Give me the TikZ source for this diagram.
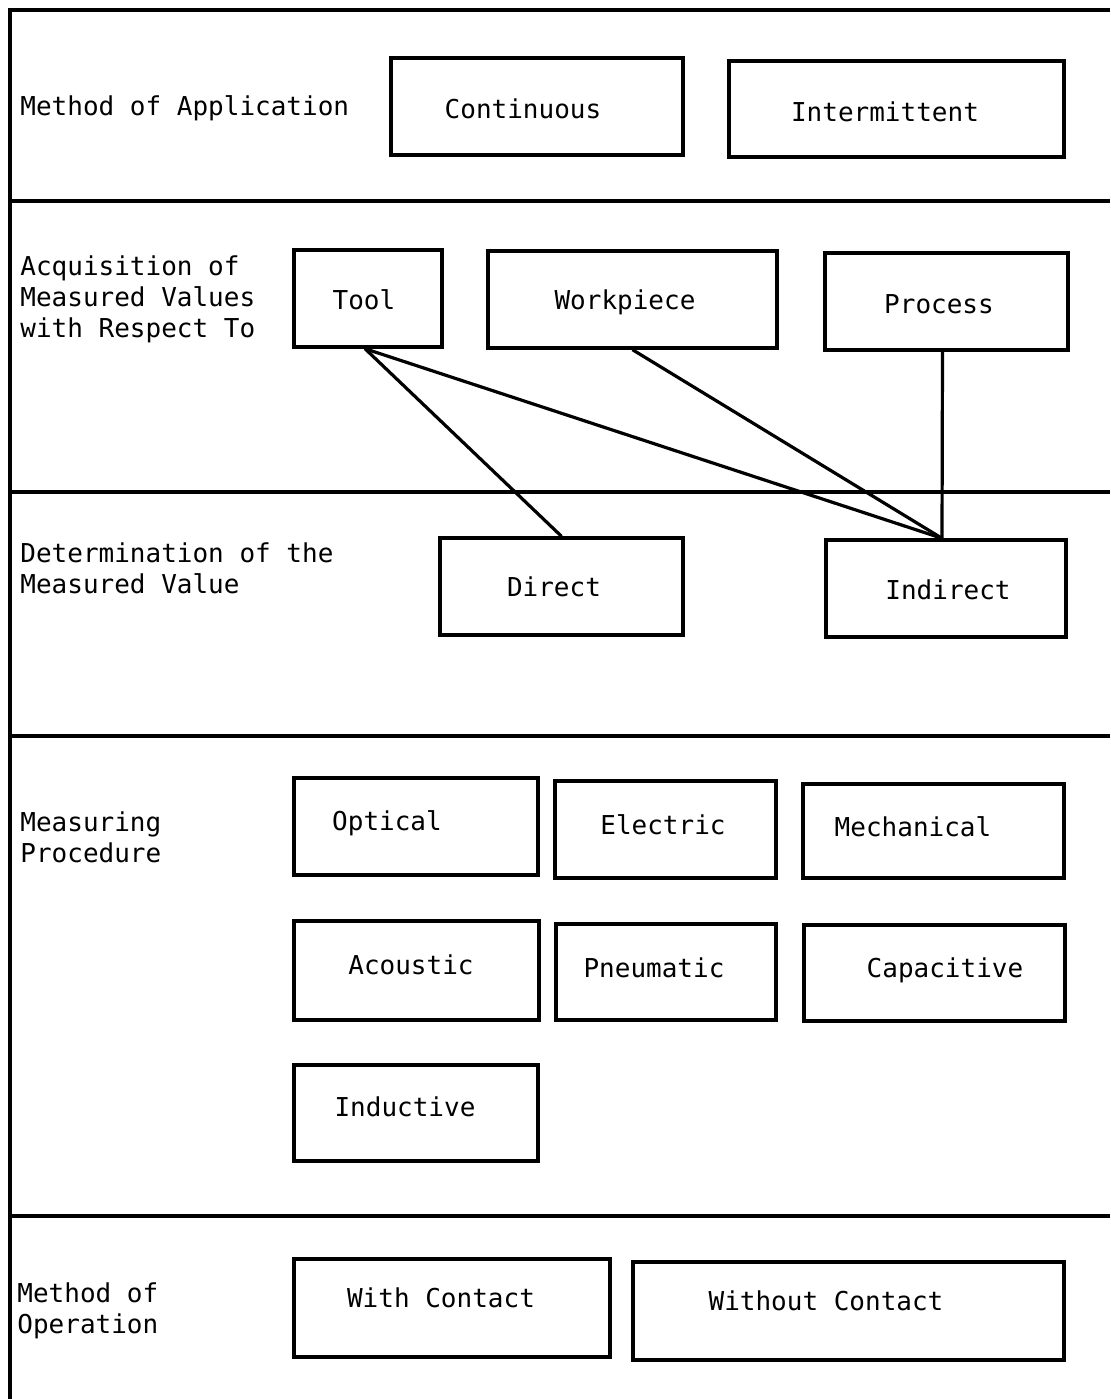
\documentclass[tikz,border=0pt]{standalone}
\usepackage{fontspec}
\setmonofont{DejaVu Sans Mono}
\begin{document}
\begin{tikzpicture}[x=0.5pt,y=-0.5pt,
  box/.style={draw,line width=1.7pt,inner sep=0pt,rectangle},
  txt/.style={inner sep=0pt,font=\ttfamily\fontsize{13}{15.5}\selectfont},
  lab/.style={txt,anchor=west,align=left},
  rule/.style={line width=1.6pt},
  conn/.style={line width=1.6pt}]
\useasboundingbox (0,0) rectangle (1110,1399);
% frame and section rules
\coordinate (tl) at (10,10);
\coordinate (tr) at (1110,10);
\coordinate (bl) at (10,1399);
\draw[rule] (tr) -- (tl) -- (bl);
\coordinate (r1l) at (10,201);  \coordinate (r1r) at (1110,201);
\coordinate (r2l) at (10,492);  \coordinate (r2r) at (1110,492);
\coordinate (r3l) at (10,736);  \coordinate (r3r) at (1110,736);
\coordinate (r4l) at (10,1216); \coordinate (r4r) at (1110,1216);
\draw[rule] (r1l) -- (r1r);
\draw[rule] (r2l) -- (r2r);
\draw[rule] (r3l) -- (r3r);
\draw[rule] (r4l) -- (r4r);
% row labels
\node[lab] (l1) at (20,108) {Method of Application};
\node[lab] (l2) at (20,299) {Acquisition of\\Measured Values\\with Respect To};
\node[lab] (l3) at (20,568) {Determination of the\\Measured Value};
\node[lab] (l4) at (20,837) {Measuring\\Procedure};
\node[lab] (l5) at (17,1311) {Method of\\Operation};
% boxes
\node[box,minimum width=292pt*0.5,minimum height=97pt*0.5] (cont) at (537,106.5) {};
\node[txt] (contt) at (523,109) {Continuous};
\node[box,minimum width=335pt*0.5,minimum height=96pt*0.5] (inter) at (896.5,109) {};
\node[txt] (intert) at (885,112) {Intermittent};
\node[box,minimum width=148pt*0.5,minimum height=97pt*0.5] (tool) at (368,298.5) {};
\node[txt] (toolt) at (364,300) {Tool};
\node[box,minimum width=289pt*0.5,minimum height=97pt*0.5] (work) at (632.5,299.5) {};
\node[txt] (workt) at (625,302) {Workpiece};
\node[box,minimum width=243pt*0.5,minimum height=97pt*0.5] (proc) at (946.5,301.5) {};
\node[txt] (proct) at (939,304) {Process};
\node[box,minimum width=243pt*0.5,minimum height=97pt*0.5] (direct) at (561.5,586.5) {};
\node[txt] (directt) at (554,587) {Direct};
\node[box,minimum width=240pt*0.5,minimum height=97pt*0.5] (indirect) at (946,588.5) {};
\node[txt] (indirectt) at (948,590) {Indirect};
\node[box,minimum width=244pt*0.5,minimum height=97pt*0.5] (opt) at (416,826.5) {};
\node[txt] (optt) at (387,823) {Optical};
\node[box,minimum width=221pt*0.5,minimum height=97pt*0.5] (elec) at (665.5,829.5) {};
\node[txt] (elect) at (663,825) {Electric};
\node[box,minimum width=261pt*0.5,minimum height=94pt*0.5] (mech) at (933.5,831) {};
\node[txt] (mecht) at (913,827) {Mechanical};
\node[box,minimum width=245pt*0.5,minimum height=99pt*0.5] (acou) at (416.5,970.5) {};
\node[txt] (acout) at (411,965) {Acoustic};
\node[box,minimum width=220pt*0.5,minimum height=96pt*0.5] (pneu) at (666,972) {};
\node[txt] (pneut) at (654,968) {Pneumatic};
\node[box,minimum width=261pt*0.5,minimum height=96pt*0.5] (capa) at (934.5,973) {};
\node[txt] (capat) at (945,970) {Capacitive};
\node[box,minimum width=244pt*0.5,minimum height=96pt*0.5] (indu) at (416,1113) {};
\node[txt] (indut) at (405,1107) {Inductive};
\node[box,minimum width=316pt*0.5,minimum height=98pt*0.5] (with) at (452,1308) {};
\node[txt] (witht) at (441,1298) {With Contact};
\node[box,minimum width=431pt*0.5,minimum height=98pt*0.5] (without) at (848.5,1311) {};
\node[txt] (withoutt) at (826,1301) {Without Contact};
% connectors
\draw[conn] ([xshift=-1.5pt]tool.south) -- (direct.north);
\draw[conn] ([xshift=-1.5pt]tool.south) -- ([xshift=-2pt]indirect.north);
\draw[conn] (work.south) -- ([xshift=-2pt]indirect.north);
\draw[conn] ([xshift=-2pt]proc.south) -- ([xshift=-2pt]indirect.north);
\end{tikzpicture}
\end{document}
